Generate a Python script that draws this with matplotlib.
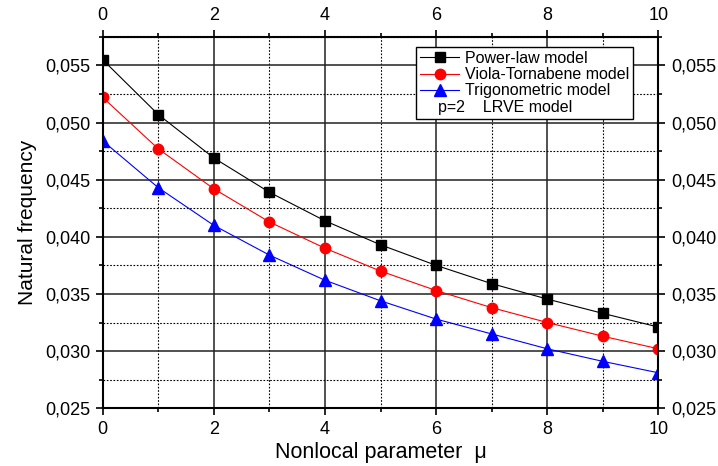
import matplotlib
matplotlib.use("Agg")
import matplotlib.pyplot as plt
from matplotlib.ticker import MultipleLocator, FuncFormatter

plt.rcParams['font.family'] = ['Liberation Sans', 'DejaVu Sans']

mu = [0, 1, 2, 3, 4, 5, 6, 7, 8, 9, 10]
power_law = [0.0555, 0.0507, 0.0469, 0.0439, 0.0414, 0.0393, 0.0375, 0.0359, 0.03455, 0.0333, 0.0321]
viola = [0.0522, 0.0477, 0.0442, 0.0413, 0.0390, 0.0370, 0.0353, 0.0338, 0.0325, 0.0313, 0.0302]
trig = [0.0484, 0.0443, 0.0410, 0.0384, 0.0362, 0.0344, 0.0328, 0.0315, 0.0302, 0.0291, 0.0281]

fig = plt.figure(figsize=(7.18, 4.66), dpi=100)
ax = fig.add_axes([0.143, 0.124, 0.774, 0.797])

ax.plot(mu, power_law, color='black', lw=0.8, marker='s', ms=7, label='Power-law model')
ax.plot(mu, viola, color='red', lw=0.8, marker='o', ms=7.5, label='Viola-Tornabene model')
ax.plot(mu, trig, color='blue', lw=0.8, marker='^', ms=8, label='Trigonometric model')
ax.plot([], [], ' ', label=' ')

ax.set_xlim(0, 10)
ax.set_ylim(0.025, 0.0575)
ax.xaxis.set_major_locator(MultipleLocator(2))
ax.xaxis.set_minor_locator(MultipleLocator(1))
ax.yaxis.set_major_locator(MultipleLocator(0.005))
ax.yaxis.set_minor_locator(MultipleLocator(0.0025))
ax.yaxis.set_major_formatter(FuncFormatter(lambda v, p: f"{v:.3f}".replace('.', ',')))

ax.grid(which='major', color='#222222', lw=1.1, ls='-')
ax.grid(which='minor', color='black', lw=0.8, ls=(0, (1.5, 1.5)))
ax.set_axisbelow(True)

ax.tick_params(which='both', direction='out', top=True, right=True,
               labeltop=True, labelright=True, labelsize=13, width=1.2)
ax.tick_params(which='major', length=5, pad=4)
ax.tick_params(which='minor', length=3)
for s in ax.spines.values():
    s.set_linewidth(1.5)

ax.set_xlabel('Nonlocal parameter  μ', fontsize=15.5, labelpad=3)
ax.set_ylabel('Natural frequency', fontsize=15, labelpad=6)

leg = ax.legend(loc='upper right', bbox_to_anchor=(0.955, 0.973), fontsize=11.5,
                frameon=True, fancybox=False, edgecolor='black', framealpha=1,
                borderpad=0.25, labelspacing=0.08, handlelength=2.4, handletextpad=0.4,
                borderaxespad=0)
leg.get_frame().set_linewidth(1.0)
ax.annotate('p=2    LRVE model', xy=(0, 0.15), xycoords=leg,
            xytext=(22, 0), textcoords='offset pixels', va='center', ha='left',
            fontsize=11.5, zorder=10)

fig.savefig('out.png', dpi=100)
